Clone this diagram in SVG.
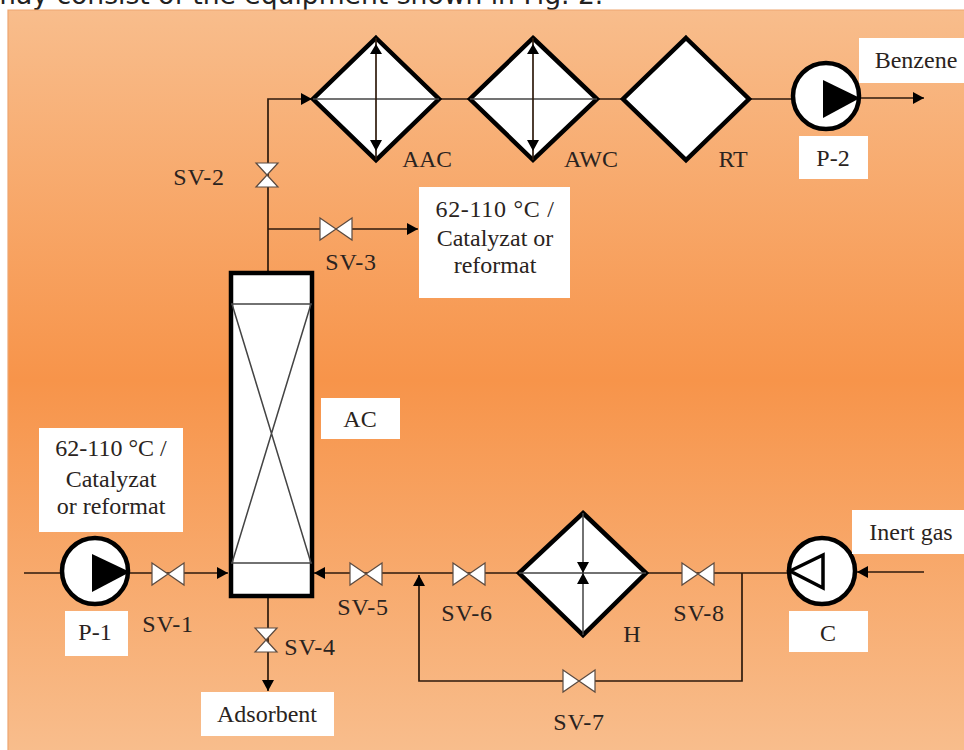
<svg xmlns="http://www.w3.org/2000/svg" width="964" height="750" viewBox="0 0 964 750">
<style>
text{font-family:"Liberation Serif","Times New Roman",serif;font-size:24px;fill:#2a2320;text-anchor:middle}
.top{font-family:"DejaVu Sans",Verdana,sans-serif;font-size:26.6px;fill:#222;text-anchor:start}
.sv{letter-spacing:.7px}
.lbl{fill:#fff}
.eq{fill:#fff;stroke:#000;stroke-width:4.5}
.ln{fill:none;stroke:#2e1a0c;stroke-width:1.7}
.in{fill:none;stroke:#444;stroke-width:1.5}
.v{fill:#fff;stroke:#5a4a40;stroke-width:1.2}
.hd{fill:#000}
</style>
<defs>
<linearGradient id="bg" x1="0" y1="0" x2="0" y2="1">
<stop offset="0" stop-color="#f8bd8c"/><stop offset="0.5" stop-color="#f7944a"/><stop offset="1" stop-color="#f8bd8c"/>
</linearGradient>
<marker id="ah" markerUnits="userSpaceOnUse" markerWidth="12" markerHeight="12" refX="11" refY="6" orient="auto"><path d="M0,0L11,6L0,12Z" fill="#000"/></marker>
<g id="vh"><path class="v" d="M-16,-11L0,0L-16,11ZM16,-11L0,0L16,11Z"/></g>
<g id="vv"><path class="v" d="M-11,-12L11,-12L0,0ZM-11,12L11,12L0,0Z"/></g>
<path id="dbl" class="hd" d="M0,44L6,54H-6ZM0,151L6,140H-6Z"/>
</defs>
<rect width="964" height="750" fill="#fff"/>
<text class="top" x="-10" y="4">may consist of the equipment shown in Fig. 2.</text>
<rect x="8" y="10" width="956" height="740" fill="url(#bg)"/>
<path d="M8,750V10H964" fill="none" stroke="#eda671" stroke-width="1.2"/>

<g id="connectors">
<path class="ln" d="M268,272V99H312" marker-end="url(#ah)"/>
<path class="ln" d="M268,229H418" marker-end="url(#ah)"/>
<path class="ln" d="M440,99H470M598,99H622M750,99H792"/>
<path class="ln" d="M860,98H924" marker-end="url(#ah)"/>
<path class="ln" d="M24,573H60"/>
<path class="ln" d="M130,573H228" marker-end="url(#ah)"/>
<path class="ln" d="M518,573H314" marker-end="url(#ah)"/>
<path class="ln" d="M268,596V691" marker-end="url(#ah)"/>
<path class="ln" d="M648,573H788"/>
<path class="ln" d="M742,573V681H419V575" marker-end="url(#ah)"/>
<path class="ln" d="M924,572H857" marker-end="url(#ah)"/>
</g>

<g id="AAC"><path class="eq" d="M376,38L439,99L376,160L313,99Z"/><path class="in" d="M313,99H439"/><path class="ln" d="M376,38V160"/><use href="#dbl" x="376"/><text style="font-size:23.5px" x="427" y="167">AAC</text></g>
<g id="AWC"><path class="eq" d="M533,38L597,99L533,160L470,99Z"/><path class="in" d="M470,99H597"/><path class="ln" d="M533,38V160"/><use href="#dbl" x="533"/><text x="591" y="167">AWC</text></g>
<g id="RT"><path class="eq" d="M686,38L749,99L686,160L623,99Z"/><text x="733" y="167">RT</text></g>
<g id="P-2"><circle class="eq" cx="826" cy="96" r="33"/><path class="hd" d="M823,80L860,98L823,118Z"/><rect class="lbl" x="799" y="136" width="69" height="43"/><text x="833" y="166">P-2</text></g>
<g id="Benzene"><rect class="lbl" x="859" y="38" width="105" height="45"/><text x="916" y="68">Benzene</text></g>
<g id="SV-2"><use href="#vv" x="267" y="175"/><text class="sv" x="199" y="185">SV-2</text></g>
<g id="SV-3"><use href="#vh" x="336" y="229"/><text class="sv" x="351" y="270">SV-3</text></g>
<g id="product"><rect class="lbl" x="419" y="187" width="151" height="111"/><text class="sv" x="495" y="217">62-110 °C /</text><text x="495" y="246">Catalyzat or</text><text x="495" y="273">reformat</text></g>
<g id="AC"><rect class="eq" x="231" y="273" width="81" height="323"/><path class="in" d="M231,304H312M231,563H312M232,304L311,563M311,304L232,563"/><rect class="lbl" x="321" y="398" width="79" height="41"/><text x="360" y="427">AC</text></g>
<g id="feed"><rect class="lbl" x="39" y="428" width="144" height="104"/><text x="111" y="456">62-110 °C /</text><text x="111" y="487">Catalyzat</text><text x="111" y="514">or reformat</text></g>
<g id="P-1"><circle class="eq" cx="95" cy="571" r="33"/><path class="hd" d="M92,554L130,572L92,592Z"/><rect class="lbl" x="65" y="611" width="63" height="45"/><text x="95" y="640">P-1</text></g>
<g id="SV-1"><use href="#vh" x="168" y="574"/><text class="sv" x="168" y="632">SV-1</text></g>
<g id="SV-4"><use href="#vv" x="266" y="640"/><text class="sv" x="310" y="655">SV-4</text></g>
<g id="Adsorbent"><rect class="lbl" x="201" y="692" width="133" height="44"/><text x="267" y="722">Adsorbent</text></g>
<g id="SV-5"><use href="#vh" x="366" y="574"/><text class="sv" x="363" y="615">SV-5</text></g>
<g id="SV-6"><use href="#vh" x="469" y="574"/><text class="sv" x="467" y="621">SV-6</text></g>
<g id="H"><path class="eq" d="M583,513L646,573L583,635L519,573Z"/><path class="in" d="M519,573H646M583,513V635"/><path class="hd" d="M577,562H589L583,573ZM577,584H589L583,573Z"/><text x="632" y="642">H</text></g>
<g id="SV-8"><use href="#vh" x="698" y="574"/><text class="sv" x="699" y="621">SV-8</text></g>
<g id="SV-7"><use href="#vh" x="579" y="681"/><text class="sv" x="579" y="730">SV-7</text></g>
<g id="C"><circle class="eq" cx="822" cy="571" r="33"/><path class="eq" style="stroke-width:3.5" d="M790,571L823,555V588Z"/><rect class="lbl" x="789" y="611" width="79" height="41"/><text x="828" y="641">C</text></g>
<g id="Inert"><rect class="lbl" x="852" y="510" width="112" height="44"/><text x="911" y="540">Inert gas</text></g>
</svg>
